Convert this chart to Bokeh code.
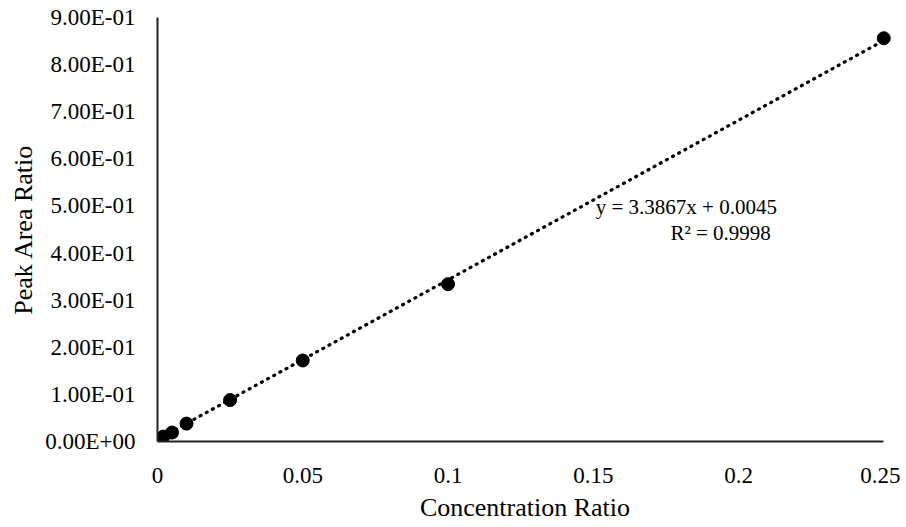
from bokeh.plotting import figure
from bokeh.embed import file_html
from bokeh.resources import INLINE
from bokeh.models import FixedTicker, Label, Range1d

conc = [0.002, 0.005, 0.01, 0.025, 0.05, 0.1, 0.25]
area = [0.0105, 0.019, 0.038, 0.088, 0.172, 0.334, 0.856]
slope = 3.3867
intercept = 0.0045
eq_text = "y = 3.3867x + 0.0045"
r2_text = "R² = 0.9998"
x_ticks = [0, 0.05, 0.1, 0.15, 0.2, 0.25]
x_labels = ["0", "0.05", "0.1", "0.15", "0.2", "0.25"]
y_ticks = [0, 0.1, 0.2, 0.3, 0.4, 0.5, 0.6, 0.7, 0.8, 0.9]
y_labels = ["0.00E+00", "1.00E-01", "2.00E-01", "3.00E-01", "4.00E-01",
            "5.00E-01", "6.00E-01", "7.00E-01", "8.00E-01", "9.00E-01"]

FONT = "Liberation Serif"

p = figure(width=900, height=524, output_backend="svg", toolbar_location=None,
           x_range=Range1d(0, 0.253), y_range=Range1d(0, 0.9),
           min_border_left=157, min_border_right=8, min_border_top=17, min_border_bottom=78)
p.outline_line_color = None
p.xgrid.grid_line_color = None
p.ygrid.grid_line_color = None

trend_x = [conc[0], conc[-1]]
trend_y = [slope * v + intercept for v in trend_x]
p.line(trend_x, trend_y, line_color="black", line_width=3.2, line_dash="1 6", line_cap="round")
p.scatter(conc, area, size=13, fill_color="black", line_color="black")

for ax, ticks, labels in ((p.xaxis, x_ticks, x_labels), (p.yaxis, y_ticks, y_labels)):
    ax.ticker = FixedTicker(ticks=ticks)
    ax.major_label_overrides = {t: l for t, l in zip(ticks, labels)}
    ax.major_tick_line_color = None
    ax.minor_tick_line_color = None
    ax.axis_line_color = "#222222"
    ax.axis_line_width = 2
    ax.major_label_text_font = FONT
    ax.major_label_text_font_size = "23px"
    ax.major_label_text_color = "black"
    ax.axis_label_text_font = FONT
    ax.axis_label_text_font_size = "26px"
    ax.axis_label_text_font_style = "normal"
    ax.axis_label_text_color = "black"

p.xaxis.bounds = (0, 0.25)
p.yaxis.bounds = (0, 0.9)
p.xaxis.axis_label = "Concentration Ratio"
p.yaxis.axis_label = "Peak Area Ratio"
p.xaxis.major_label_standoff = 20
p.xaxis.axis_label_standoff = 7
p.yaxis.major_label_standoff = 16
p.yaxis.axis_label_standoff = 4

p.add_layout(Label(x=0.2132, y=0.497, text=eq_text, text_font=FONT, text_font_size="21px",
                   text_align="right", text_baseline="middle", text_color="black"))
p.add_layout(Label(x=0.2111, y=0.443, text=r2_text, text_font=FONT, text_font_size="21px",
                   text_align="right", text_baseline="middle", text_color="black"))

open("out.html", "w").write(file_html(p, INLINE))
